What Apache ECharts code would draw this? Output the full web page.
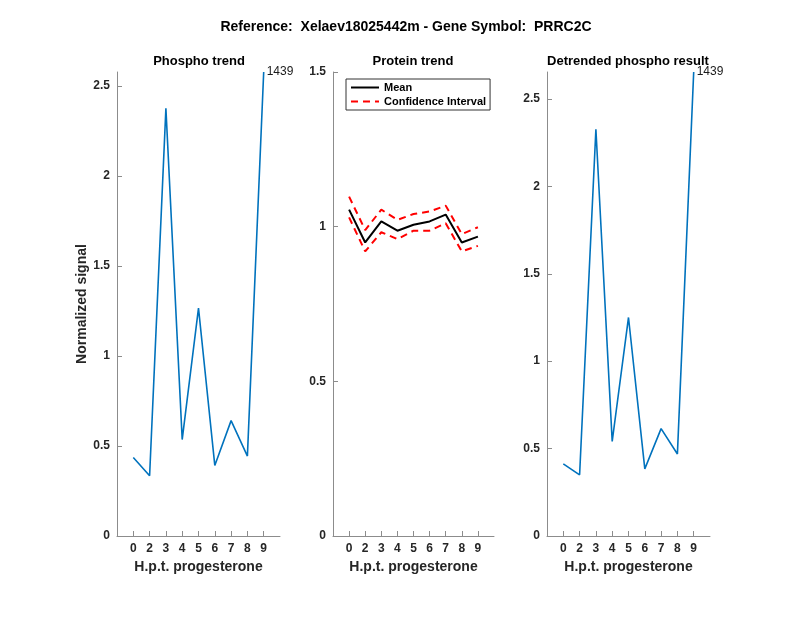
<!DOCTYPE html>
<html>
<head>
    <meta charset="utf-8">
    <title>PRRC2C</title>
    <script src="https://cdn.jsdelivr.net/npm/echarts@6/dist/echarts.min.js"></script>
    <style>
        html, body { margin: 0; padding: 0; background: #fff; }
    </style>
</head>
<body>
<div id="main" style="width: 800px;height:618px;"></div>
<script type="text/javascript">

    // hours after progesterone (tick labels), placed at x = 1..9
    var hours = ['0', '2', '3', '4', '5', '6', '7', '8', '9'];

    var phospho = [0.436, 0.335, 2.376, 0.536, 1.266, 0.392, 0.641, 0.444, 2.578];
    var proteinMean = [1.055, 0.949, 1.017, 0.987, 1.006, 1.017, 1.039, 0.949, 0.968];
    var proteinUpper = [1.097, 0.989, 1.055, 1.022, 1.041, 1.049, 1.068, 0.976, 0.998];
    var proteinLower = [1.030, 0.920, 0.982, 0.960, 0.987, 0.987, 1.011, 0.920, 0.938];
    var detrended = [0.413, 0.350, 2.327, 0.541, 1.250, 0.384, 0.614, 0.469, 2.654];

    var peptideId = '1439';
    var yTicksPhospho = [0, 0.5, 1, 1.5, 2, 2.5];
    var yTicksProtein = [0, 0.5, 1, 1.5];

    var FONT = 'Liberation Sans';
    var axisColor = '#8c8c8c';
    var labelColor = '#262626';

    function pairs(arr) {
        return arr.map(function (v, i) { return [i + 1, v]; });
    }

    function xAxis(idx) {
        return {
            type: 'value', gridIndex: idx, min: 0, max: 10,
            name: 'H.p.t. progesterone', nameLocation: 'middle', nameGap: 23,
            nameTextStyle: { fontFamily: FONT, fontWeight: 'bold', fontSize: 14, color: labelColor },
            axisLine: { lineStyle: { color: axisColor, width: 1 } },
            axisTick: { show: true, inside: true, length: 5, customValues: [1, 2, 3, 4, 5, 6, 7, 8, 9],
                lineStyle: { color: axisColor } },
            axisLabel: { customValues: [1, 2, 3, 4, 5, 6, 7, 8, 9], margin: 7,
                fontFamily: FONT, fontWeight: 'bold', fontSize: 12, color: labelColor,
                formatter: function (v) { return hours[Math.round(v) - 1]; } },
            splitLine: { show: false }
        };
    }

    function yAxis(idx, max, ticks, name) {
        return {
            type: 'value', gridIndex: idx, min: 0, max: max,
            name: name || '', nameLocation: 'middle', nameGap: 20,
            nameTextStyle: { fontFamily: FONT, fontWeight: 'bold', fontSize: 14, color: labelColor },
            axisLine: { show: true, lineStyle: { color: axisColor, width: 1 } },
            axisTick: { show: true, inside: true, length: 5, customValues: ticks,
                lineStyle: { color: axisColor } },
            axisLabel: { customValues: ticks, margin: 7,
                fontFamily: FONT, fontWeight: 'bold', fontSize: 12, color: labelColor },
            splitLine: { show: false }
        };
    }

    var endLabel = {
        show: true, distance: 3, formatter: peptideId,
        fontFamily: FONT, fontSize: 12, color: '#1a1a1a'
    };

    var myChart = echarts.init(document.getElementById('main'));

    var option = {
        animation: false,
        backgroundColor: '#fff',
        title: [
            { text: 'Reference:  Xelaev18025442m - Gene Symbol:  PRRC2C', left: 401, top: 15, textAlign: 'center',
                textStyle: { fontFamily: FONT, fontWeight: 'bold', fontSize: 14, color: '#000' } },
            { text: 'Phospho trend', left: 194, top: 50, textAlign: 'center',
                textStyle: { fontFamily: FONT, fontWeight: 'bold', fontSize: 13, color: '#000' } },
            { text: 'Protein trend', left: 408, top: 50, textAlign: 'center',
                textStyle: { fontFamily: FONT, fontWeight: 'bold', fontSize: 13, color: '#000' } },
            { text: 'Detrended phospho result', left: 623, top: 50, textAlign: 'center',
                textStyle: { fontFamily: FONT, fontWeight: 'bold', fontSize: 13, color: '#000' } }
        ],
        legend: {
            data: ['Mean', 'Confidence Interval'],
            orient: 'vertical', left: 346, top: 79,
            itemWidth: 28, itemHeight: 12, itemGap: 3,
            padding: [3, 4, 3, 4],
            itemStyle: { opacity: 0 },
            borderColor: '#333', borderWidth: 1, backgroundColor: '#fff',
            textStyle: { fontFamily: FONT, fontWeight: 'bold', fontSize: 11, color: '#000' }
        },
        grid: [
            { left: 117, top: 72, width: 163, height: 464 },
            { left: 333, top: 72, width: 161, height: 464 },
            { left: 547, top: 72, width: 163, height: 464 }
        ],
        xAxis: [xAxis(0), xAxis(1), xAxis(2)],
        yAxis: [
            yAxis(0, 'dataMax', yTicksPhospho, 'Normalized signal'),
            yAxis(1, 1.5, yTicksProtein),
            yAxis(2, 'dataMax', yTicksPhospho)
        ],
        series: [
            { type: 'line', xAxisIndex: 0, yAxisIndex: 0, data: pairs(phospho),
                symbol: 'none', endLabel: endLabel, lineStyle: { color: '#0072BD', width: 1.6 } },
            { type: 'line', name: 'Mean', xAxisIndex: 1, yAxisIndex: 1, data: pairs(proteinMean),
                symbol: 'none', itemStyle: { color: '#000' }, lineStyle: { color: '#000', width: 2 } },
            { type: 'line', name: 'Confidence Interval', xAxisIndex: 1, yAxisIndex: 1, data: pairs(proteinUpper),
                symbol: 'none', itemStyle: { color: '#ff0000' },
                lineStyle: { color: '#ff0000', width: 2, type: [7, 5] } },
            { type: 'line', name: 'Confidence Interval', xAxisIndex: 1, yAxisIndex: 1, data: pairs(proteinLower),
                symbol: 'none', itemStyle: { color: '#ff0000' },
                lineStyle: { color: '#ff0000', width: 2, type: [7, 5] } },
            { type: 'line', xAxisIndex: 2, yAxisIndex: 2, data: pairs(detrended),
                symbol: 'none', endLabel: endLabel, lineStyle: { color: '#0072BD', width: 1.6 } }
        ]
    };

    myChart.setOption(option);
</script>
</body>
</html>
